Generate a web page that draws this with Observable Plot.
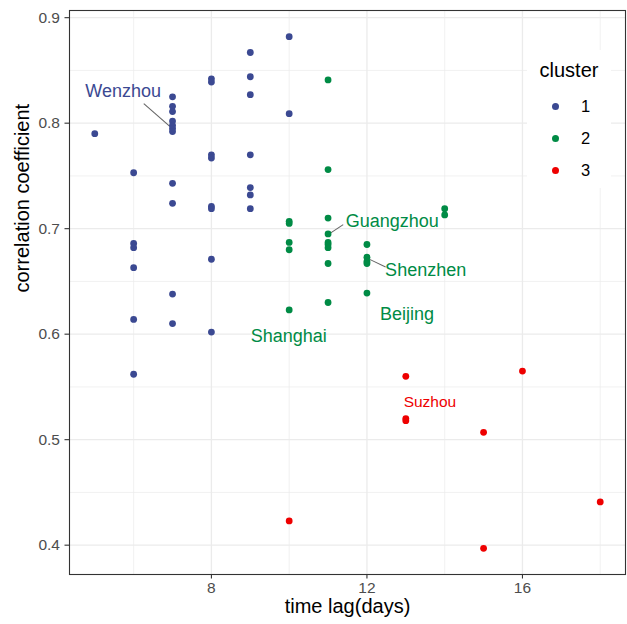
<!DOCTYPE html>
<html>
<head>
<meta charset="utf-8">
<script src="https://cdn.jsdelivr.net/npm/d3@7"></script>
<script src="https://cdn.jsdelivr.net/npm/@observablehq/plot@0.6"></script>
<style>
  html, body { margin: 0; padding: 0; background: #fff; }
  #wrap { position: relative; width: 627px; height: 624px; font-family: "Liberation Sans", Arial, Helvetica, sans-serif; }
  #legend { position: absolute; left: 527px; top: 50px; width: 84px; height: 138px; background: #fff; }
  #legend .title { position: absolute; left: 0; width: 84px; top: 8px; text-align: center; font-size: 20px; color: #000; line-height: 24px; }
  #legend .dot { position: absolute; width: 7px; height: 7px; border-radius: 50%; }
  #legend .lab { position: absolute; font-size: 16.5px; color: #000; line-height: 20px; }
</style>
</head>
<body>
<div id="wrap"><div id="chart"></div><div id="legend"></div></div>
<script>
// ---- data ----
const clusters = ["1", "2", "3"];
const clusterColors = ["#3B4992", "#008B45", "#EE0000"];

const lag1 = [5, 6, 6, 6, 6, 6, 6, 7, 7, 7, 7, 7, 7, 7, 7, 7, 7, 7, 8, 8, 8, 8, 8, 8, 8, 8, 9, 9, 9, 9, 9, 9, 9, 10, 10];
const cor1 = [0.790, 0.753, 0.686, 0.682, 0.663, 0.614, 0.562, 0.825, 0.816, 0.811, 0.802, 0.798, 0.795, 0.792, 0.743, 0.724, 0.638, 0.610, 0.842, 0.839, 0.770, 0.767, 0.721, 0.719, 0.671, 0.602, 0.867, 0.844, 0.827, 0.770, 0.739, 0.732, 0.719, 0.882, 0.809];

const lag2 = [10, 10, 10, 10, 10, 11, 11, 11, 11, 11, 11, 11, 11, 11, 12, 12, 12, 12, 12, 14, 14];
const cor2 = [0.707, 0.705, 0.687, 0.680, 0.623, 0.841, 0.756, 0.710, 0.695, 0.687, 0.685, 0.682, 0.667, 0.630, 0.685, 0.673, 0.669, 0.667, 0.639, 0.719, 0.713];

const lag3 = [10, 13, 13, 13, 15, 15, 16, 18];
const cor3 = [0.423, 0.560, 0.520, 0.518, 0.507, 0.397, 0.565, 0.441];

// city labels (label position in data units) and leader segments
const labelCity = ["Wenzhou", "Guangzhou", "Shenzhen", "Beijing", "Shanghai", "Suzhou"];
const labelCluster = ["1", "2", "2", "2", "2", "3"];
const labelLag = [5.73, 12.65, 13.51, 13.03, 9.99, 13.62];
const labelCor = [0.830, 0.7072, 0.6604, 0.6187, 0.5985, 0.5355];
const labelSize = [18, 18, 18, 18, 18, 15.5];

const segFromLag = [6.26, 11.39, 12.07];
const segFromCor = [0.8186, 0.7038, 0.6709];
const segToLag = [6.93, 11.06, 12.48];
const segToCor = [0.797, 0.6958, 0.6636];

const xMajor = [8, 12, 16];
const xMinor = [6, 10, 14, 18];
const yMajor = [0.4, 0.5, 0.6, 0.7, 0.8, 0.9];
const yMinor = [0.45, 0.55, 0.65, 0.75, 0.85];

// ---- build tables ----
const points = [];
[[lag1, cor1, "1"], [lag2, cor2, "2"], [lag3, cor3, "3"]].forEach(([xs, ys, c]) => {
  xs.forEach((x, i) => points.push({lag: x, cor: ys[i], cluster: c}));
});
const labels = labelCity.map((name, i) => ({name, cluster: labelCluster[i], lag: labelLag[i], cor: labelCor[i], size: labelSize[i]}));
const segs = segFromLag.map((x, i) => ({x1: x, y1: segFromCor[i], x2: segToLag[i], y2: segToCor[i]}));
const colorOf = c => clusterColors[clusters.indexOf(c)];

const font = "'Liberation Sans', Arial, Helvetica, sans-serif";

const chart = Plot.plot({
  width: 627,
  height: 624,
  marginLeft: 69,
  marginRight: 2,
  marginTop: 10,
  marginBottom: 50,
  style: {fontFamily: font, background: "#fff"},
  x: {domain: [4.35, 18.65]},
  y: {domain: [0.3722, 0.9068]},
  color: {domain: clusters, range: clusterColors},
  marks: [
    Plot.gridX(xMinor, {stroke: "#ebebeb", strokeOpacity: 1, strokeWidth: 0.7}),
    Plot.gridY(yMinor, {stroke: "#ebebeb", strokeOpacity: 1, strokeWidth: 0.7}),
    Plot.gridX(xMajor, {stroke: "#ebebeb", strokeOpacity: 1, strokeWidth: 1.3}),
    Plot.gridY(yMajor, {stroke: "#ebebeb", strokeOpacity: 1, strokeWidth: 1.3}),
    Plot.link(segs, {x1: "x1", y1: "y1", x2: "x2", y2: "y2", stroke: "#666", strokeWidth: 1.1}),
    Plot.dot(points, {x: "lag", y: "cor", fill: "cluster", r: 3.4, stroke: null}),
    Plot.text(labels, {x: "lag", y: "cor", text: "name", fill: d => colorOf(d.cluster), fontSize: d => d.size}),
    Plot.frame({stroke: "#333", strokeWidth: 1.1}),
    Plot.axisX(xMajor, {tickSize: 4.5, tickPadding: 3, fontSize: 15.5, color: "#4d4d4d", stroke: "#333", strokeWidth: 1.1, label: null}),
    Plot.axisY(yMajor, {tickSize: 4.5, tickPadding: 5, fontSize: 15.5, color: "#4d4d4d", stroke: "#333", strokeWidth: 1.1, tickFormat: d3.format(".1f"), label: null}),
    Plot.text(["time lag(days)"], {frameAnchor: "bottom", dy: 38, fontSize: 20, fill: "#000"}),
    Plot.text(["correlation coefficient"], {frameAnchor: "left", dx: -47, rotate: -90, fontSize: 20, fill: "#000"})
  ]
});
document.getElementById("chart").appendChild(chart);

// ---- legend ----
const legend = document.getElementById("legend");
const t = document.createElement("div");
t.className = "title";
t.textContent = "cluster";
legend.appendChild(t);
clusters.forEach((c, i) => {
  const cy = 56 + i * 32.2;
  const d = document.createElement("div");
  d.className = "dot";
  d.style.background = clusterColors[i];
  d.style.left = (28.7 - 3.5) + "px";
  d.style.top = (cy - 3.5) + "px";
  legend.appendChild(d);
  const l = document.createElement("div");
  l.className = "lab";
  l.textContent = c;
  l.style.left = "54px";
  l.style.top = (cy - 10) + "px";
  legend.appendChild(l);
});
</script>
</body>
</html>
